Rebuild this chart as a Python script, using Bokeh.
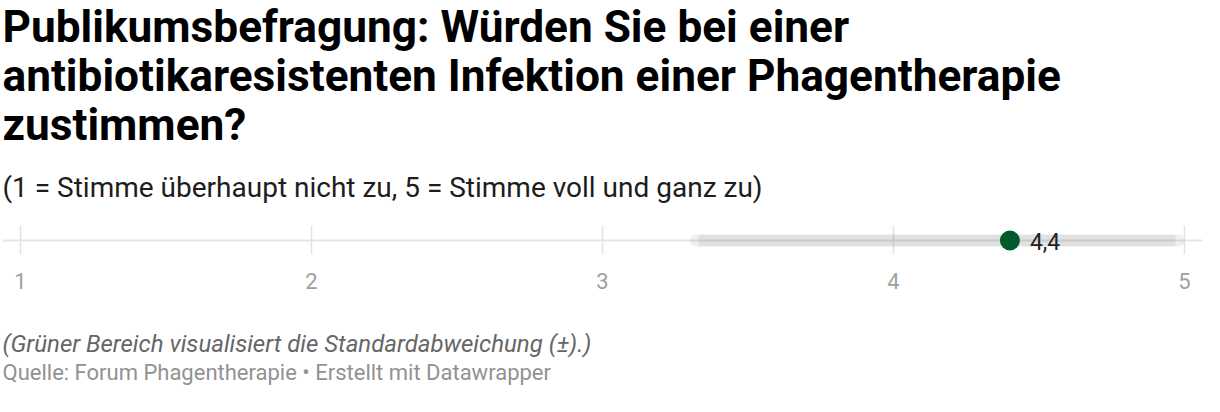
from bokeh.plotting import figure
from bokeh.models import Range1d, ColumnDataSource
from bokeh.core.properties import value
from bokeh.embed import file_html
from bokeh.resources import INLINE

# ---- data ----
title_lines = [
    "Publikumsbefragung: Würden Sie bei einer",
    "antibiotikaresistenten Infektion einer Phagentherapie",
    "zustimmen?",
]
subtitle = "(1 = Stimme überhaupt nicht zu, 5 = Stimme voll und ganz zu)"
note = "(Grüner Bereich visualisiert die Standardabweichung (±).)"
source = "Quelle: Forum Phagentherapie • Erstellt mit Datawrapper"

tick_values = [1, 2, 3, 4, 5]
tick_labels = ["1", "2", "3", "4", "5"]
mean_value = [4.4]
mean_label = ["4,4"]
sd_low = [3.30]
sd_high = [5.0]

W, H = 1204, 396
ppu = 291.0          # pixels per unit
x0_px = 20           # canvas pixel of value 1
x_start = 1 - x0_px / ppu
x_end = 1 + (W - x0_px) / ppu


def px(n):
    return n / ppu


def base(y, size):
    # compensate bokeh's alphabetic baseline offset
    return y - 0.36 * size


p = figure(width=W, height=H, output_backend="svg", toolbar_location=None,
           x_range=Range1d(x_start, x_end), y_range=Range1d(H, 0),
           min_border=0, x_axis_type=None, y_axis_type=None)
p.outline_line_color = None
p.grid.visible = False
p.background_fill_color = "white"
p.border_fill_color = "white"

font = value("Roboto")
left = x_start + px(2)

# title
ts_title = 44.2
p.text(x=[left] * 3, y=[base(42, ts_title), base(91, ts_title), base(140, ts_title)],
       text=title_lines,
       text_font=font, text_font_style="bold", text_font_size=f"{ts_title}px",
       text_color="#000000", text_baseline="alphabetic", text_align="left")
p.text(x=[left], y=[base(197, 28)], text=[subtitle],
       text_font=font, text_font_size="28px", text_color="#1d1d1d",
       text_baseline="alphabetic", text_align="left")

axis_y = 240
# axis line
p.segment(x0=[left], x1=[x_end - px(2)],
          y0=[axis_y], y1=[axis_y], line_color="#e6e6e6", line_width=2)
# ticks
ts = ColumnDataSource(dict(x=tick_values, lab=tick_labels))
p.segment(x0="x", x1="x", y0=axis_y - 15, y1=axis_y + 14, source=ts,
          line_color="#e3e3e3", line_width=1.5)
p.text(x="x", y=base(288, 22), text="lab", source=ts, text_font=font,
       text_font_size="22px", text_color="#a0a0a0",
       text_align="center", text_baseline="alphabetic")

# sd band: light rounded ends + darker core
p.segment(x0=[sd_low[0] + px(6)], x1=[sd_high[0] - px(6)],
          y0=[axis_y], y1=[axis_y],
          line_color="#000000", line_alpha=0.06, line_width=12,
          line_cap="round")
p.segment(x0=[sd_low[0] + px(9)], x1=[sd_high[0] - px(9)],
          y0=[axis_y], y1=[axis_y],
          line_color="#000000", line_alpha=0.06, line_width=12,
          line_cap="butt")
# mean dot
p.scatter(x=mean_value, y=[axis_y], size=20, fill_color="#005a2d",
          line_color=None)
p.text(x=[mean_value[0] + px(20)], y=[base(axis_y + 9, 23)], text=mean_label,
       text_font=font, text_font_size="23px", text_color="#222222",
       text_baseline="alphabetic", text_align="left")

# notes
p.text(x=[left], y=[base(352, 24)], text=[note], text_font=font,
       text_font_style="italic", text_font_size="24px", text_color="#666666",
       text_baseline="alphabetic", text_align="left")
p.text(x=[left], y=[base(380, 22)], text=[source], text_font=font,
       text_font_size="22px", text_color="#929292",
       text_baseline="alphabetic", text_align="left")

open("out.html", "w").write(file_html(p, INLINE))
